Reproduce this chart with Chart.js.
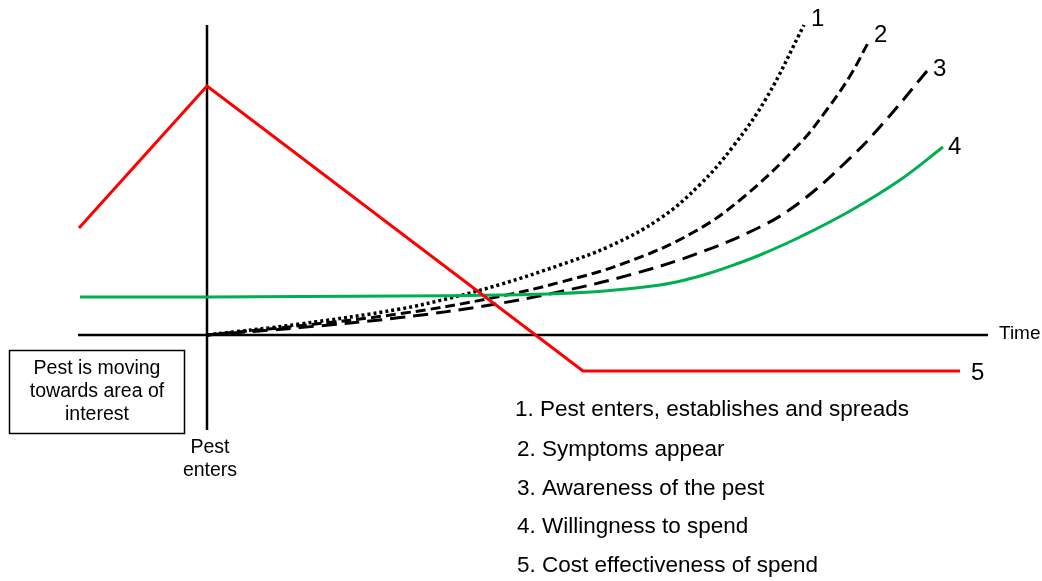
<!DOCTYPE html>
<html>
<head>
<meta charset="utf-8">
<script src="https://cdn.jsdelivr.net/npm/chart.js@4/dist/chart.umd.min.js"></script>
<style>
  html, body { margin: 0; padding: 0; background: #ffffff; }
  #wrap { position: relative; width: 1042px; height: 581px; }
</style>
</head>
<body>
<div id="wrap"><canvas id="c"></canvas></div>
<script>
// ---- Data (time units: 0 = pest enters; level units: 0 = time axis) ----
const spreadTime   = [0, 9.3, 19.3, 24.3, 29.3, 35.3, 40.3, 45.3, 49.3, 52.6, 56.0, 59.7];
const spreadLevel  = [0, 1.1, 2.6, 3.7, 5.05, 7.0, 8.9, 11.65, 15.05, 18.85, 23.8, 31.0];

const symptomTime  = [0, 9.3, 19.3, 28.3, 35.3, 42.0, 48.6, 53.6, 59.3, 62.0, 64.3, 66.1];
const symptomLevel = [0, 0.93, 2.13, 3.66, 5.27, 7.28, 10.25, 13.75, 19.17, 22.55, 25.9, 29.2];

const awareTime    = [0, 9.3, 19.3, 28.3, 35.3, 42.0, 48.6, 55.3, 59.3, 64.3, 67.6, 72.0];
const awareLevel   = [0, 0.74, 1.74, 3.0, 4.33, 5.94, 7.99, 10.8, 13.28, 17.68, 21.15, 26.4];

const spendTime    = [-12.7, 0, 19.3, 29.3, 35.3, 40.3, 45.3, 47.8, 50.3, 52.8, 55.3, 59.3, 64.3, 69.3, 73.6];
const spendLevel   = [3.8, 3.8, 3.9, 4.0, 4.15, 4.45, 5.0, 5.5, 6.2, 7.05, 8.0, 9.8, 12.4, 15.5, 18.8];

const costTime     = [-12.8, 0, 37.6, 75.3];
const costLevel    = [10.7, 24.9, -3.6, -3.6];

const timeAxisTime  = [-12.9, 78.1];
const timeAxisLevel = [0, 0];
const entryTime     = [0, 0];
const entryLevel    = [31, -9.5];

const seriesNumbers = ["1", "2", "3", "4", "5"];
const legendLines = [
  "1. Pest enters, establishes and spreads",
  "2. Symptoms appear",
  "3. Awareness of the pest",
  "4. Willingness to spend",
  "5. Cost effectiveness of spend"
];
const boxLines = ["Pest is moving", "towards area of", "interest"];
const entryLines = ["Pest", "enters"];
const axisTitle = "Time";

function pts(xs, ys) { return xs.map((x, i) => ({ x: x, y: ys[i] })); }

const FONT = '"Liberation Sans", Arial, sans-serif';

const textPlugin = {
  id: 'diagramText',
  afterDatasetsDraw(chart) {
    const ctx = chart.ctx;
    const xs = chart.scales.x, ys = chart.scales.y;
    ctx.save();
    ctx.fillStyle = '#000';
    ctx.textBaseline = 'middle';

    // number labels at the end of each series
    const ends = [
      { t: spreadTime, v: spreadLevel, dx: 7, dy: -6 },
      { t: symptomTime, v: symptomLevel, dx: 6, dy: -8 },
      { t: awareTime, v: awareLevel, dx: 6, dy: -2 },
      { t: spendTime, v: spendLevel, dx: 5, dy: 0 },
      { t: costTime, v: costLevel, dx: 11, dy: 2 }
    ];
    ctx.font = '24px ' + FONT;
    ctx.textAlign = 'left';
    ends.forEach((e, i) => {
      const n = e.t.length - 1;
      const px = xs.getPixelForValue(e.t[n]);
      const py = ys.getPixelForValue(e.v[n]);
      ctx.fillText(seriesNumbers[i], px + e.dx, py + e.dy);
    });

    // axis title
    ctx.font = '19px ' + FONT;
    ctx.fillText(axisTitle, xs.getPixelForValue(timeAxisTime[1]) + 11, ys.getPixelForValue(0) - 1);

    // "Pest enters" under the entry line
    ctx.font = '19.5px ' + FONT;
    ctx.textAlign = 'center';
    const ex = xs.getPixelForValue(0) + 3;
    const ey = ys.getPixelForValue(entryLevel[1]);
    entryLines.forEach((s, i) => ctx.fillText(s, ex, ey + 18 + i * 23));

    // box
    const bx = 9.5, by = 350.5, bw = 175, bh = 83;
    ctx.strokeStyle = '#000';
    ctx.lineWidth = 1.5;
    ctx.strokeRect(bx, by, bw, bh);
    boxLines.forEach((s, i) => ctx.fillText(s, bx + bw / 2, 369 + i * 23));

    // numbered list
    ctx.font = '22.5px ' + FONT;
    ctx.textAlign = 'left';
    const listY = [410, 450, 489, 527, 566];
    legendLines.forEach((s, i) => ctx.fillText(s, i === 0 ? 515 : 517, listY[i]));
    ctx.restore();
  }
};

new Chart(document.getElementById('c'), {
  type: 'line',
  data: {
    datasets: [
      { label: '5', data: pts(costTime, costLevel), borderColor: '#ff0000', borderWidth: 3, tension: 0, order: 0 },
      { label: '4', data: pts(spendTime, spendLevel), borderColor: '#00b050', borderWidth: 3, tension: 0.4, order: 1 },
      { label: '1', data: pts(spreadTime, spreadLevel), borderColor: '#000', borderWidth: 3.5, borderDash: [3, 3], borderCapStyle: 'butt', tension: 0.4, order: 2 },
      { label: '2', data: pts(symptomTime, symptomLevel), borderColor: '#000', borderWidth: 3, borderDash: [10, 5], tension: 0.4, order: 3 },
      { label: '3', data: pts(awareTime, awareLevel), borderColor: '#000', borderWidth: 3, borderDash: [15, 8], tension: 0.4, order: 4 },
      { label: 'time axis', data: pts(timeAxisTime, timeAxisLevel), borderColor: '#000', borderWidth: 2.5, tension: 0, order: 5 },
      { label: 'entry', data: pts(entryTime, entryLevel), borderColor: '#000', borderWidth: 2.5, tension: 0, order: 6 }
    ]
  },
  options: {
    responsive: true,
    maintainAspectRatio: false,
    animation: false,
    layout: { padding: 0 },
    elements: { point: { radius: 0, hoverRadius: 0 }, line: { fill: false } },
    plugins: { legend: { display: false }, tooltip: { enabled: false } },
    events: [],
    scales: {
      x: { type: 'linear', min: -20.7, max: 83.5, display: false },
      y: { type: 'linear', min: -24.6, max: 33.5, display: false }
    }
  },
  plugins: [textPlugin]
});
</script>
</body>
</html>
